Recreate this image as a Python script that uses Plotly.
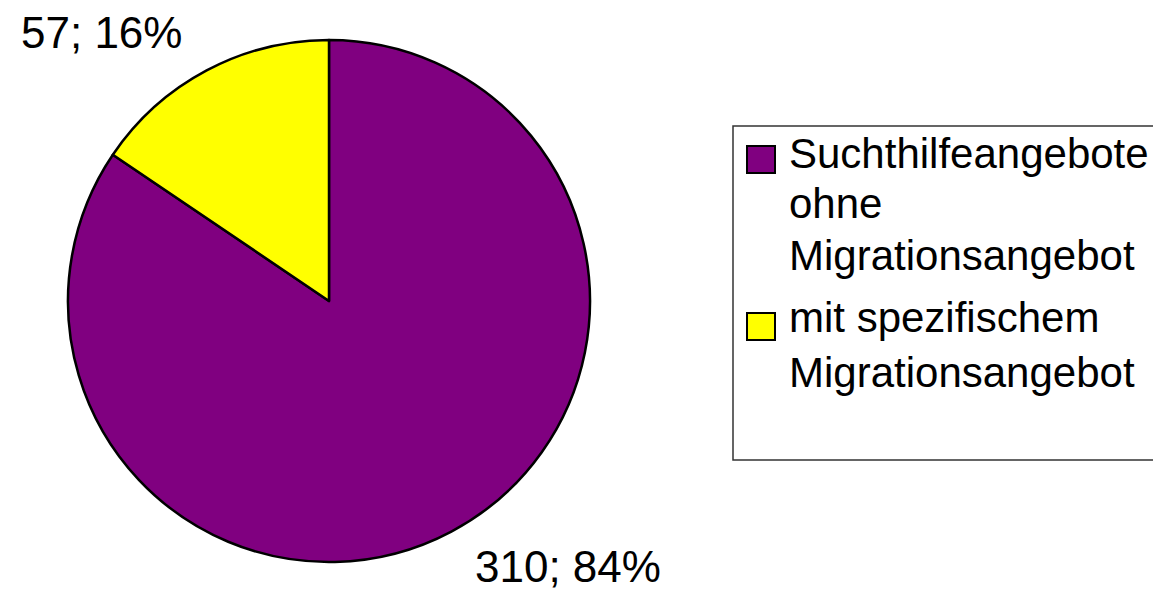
import plotly.graph_objects as go

categories = ["Suchthilfeangebote ohne Migrationsangebot", "mit spezifischem Migrationsangebot"]
legend_lines = [["Suchthilfeangebote", "ohne", "Migrationsangebot"], ["mit spezifischem", "Migrationsangebot"]]
values = [310, 57]
colors = ["#800080", "#FFFF00"]

W, H = 1153, 593
FONT = "Liberation Sans, Arial, sans-serif"

fig = go.Figure()
fig.add_trace(go.Pie(
    labels=categories,
    values=values,
    sort=False,
    direction="clockwise",
    rotation=0,
    marker=dict(colors=colors, line=dict(color="black", width=2.5)),
    textinfo="none",
    domain=dict(x=[67 / W, 591 / W], y=[(H - 562) / H, (H - 40) / H]),
    showlegend=False,
    hoverinfo="label+value+percent",
))

def px(x):
    return x / W

def py(y):
    return (H - y) / H

total = sum(values)
data_labels = [f"{v}; {round(100 * v / total)}%" for v in values]
# label positions (pixels from top-left): purple label bottom right, yellow label top left
label_pos = [(568, 566), (101, 32)]

shapes = [
    dict(type="rect", xref="paper", yref="paper", x0=px(733), x1=px(1165), y0=py(460), y1=py(126),
         line=dict(color="#333333", width=1.5), fillcolor="rgba(0,0,0,0)"),
]
annotations = []
for lab, (x, y) in zip(data_labels, label_pos):
    annotations.append(dict(xref="paper", yref="paper", x=px(x), y=py(y), xanchor="center", yanchor="middle",
                            text=lab, showarrow=False, font=dict(family=FONT, size=44, color="black")))

square_tops = [146, 313]
line_baselines = [[168, 218, 270], [333, 387]]
for i, c in enumerate(colors):
    t = square_tops[i]
    shapes.append(dict(type="rect", xref="paper", yref="paper", x0=px(747), x1=px(775), y0=py(t + 27), y1=py(t),
                       line=dict(color="black", width=2), fillcolor=c))
    for line, b in zip(legend_lines[i], line_baselines[i]):
        annotations.append(dict(xref="paper", yref="paper", x=px(787), y=py(b - 15), xanchor="left", yanchor="middle",
                                text=line, showarrow=False, font=dict(family=FONT, size=42, color="black")))

fig.update_layout(
    width=W, height=H,
    margin=dict(l=0, r=0, t=0, b=0),
    paper_bgcolor="white",
    plot_bgcolor="white",
    shapes=shapes,
    annotations=annotations,
)

fig.write_html("out.html", config={"displayModeBar": False},
               post_script="document.body.style.margin='0';")
